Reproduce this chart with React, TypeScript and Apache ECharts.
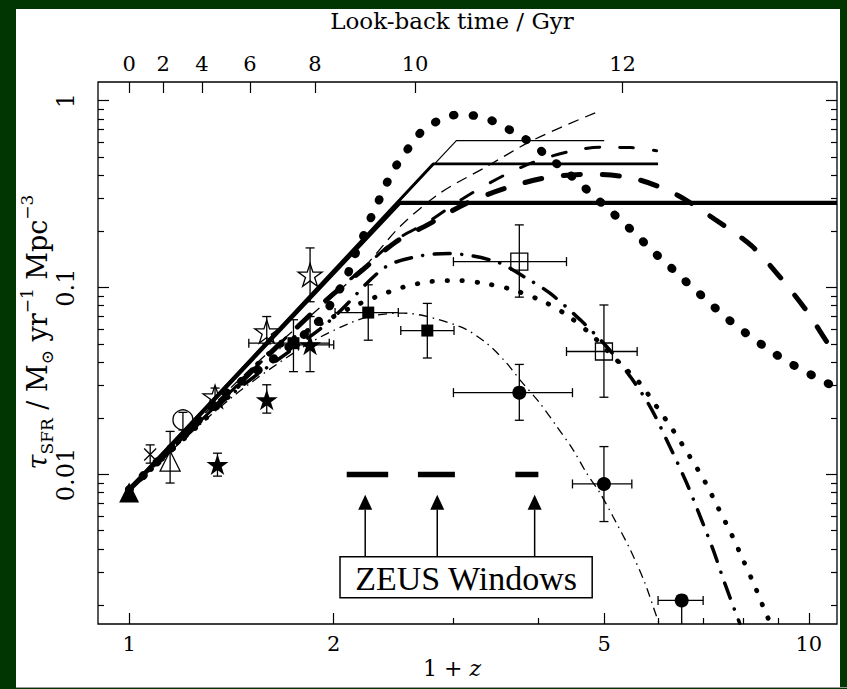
import React, { useEffect, useRef } from "react";
import * as echarts from "echarts";

const W = 847;
const H = 689;
const GREEN = "#013501";
const FONT = "'DejaVu Serif', serif";

// ---- axis ranges (1+z on x, SFR density on y) ----
const xRange = [0.9, 11];
const yRange = [0.0015849, 1.2589];

// ---- tick values / labels ----
const xMajorTicks = [1, 2, 5, 10];
const xTickLabels = ["1", "2", "5", "10"];
const xMinorTicks = [3, 4, 6, 7, 8, 9];
const yMajorTicks = [0.01, 0.1, 1];
const yTickLabels = ["0.01", "0.1", "1"];
const yMinorTicks = [
  0.002, 0.003, 0.004, 0.005, 0.006, 0.007, 0.008, 0.009,
  0.02, 0.03, 0.04, 0.05, 0.06, 0.07, 0.08, 0.09,
  0.2, 0.3, 0.4, 0.5, 0.6, 0.7, 0.8, 0.9,
];
const lookbackGyr = [0, 2, 4, 6, 8, 10, 12];
const lookbackOnePlusZ = [1, 1.122, 1.28, 1.506, 1.877, 2.634, 5.32];

// ---- model curves ----
const thickSolidX = [1, 2.5, 11];
const thickSolidY = [0.0083, 0.284, 0.284];
const mediumSolidX = [1, 2.8, 6.0];
const mediumSolidY = [0.0083, 0.459, 0.459];
const thinSolidX = [1, 3.03, 5.0];
const thinSolidY = [0.0083, 0.611, 0.611];

const thinDashX = [1, 1.5, 2.186, 2.503, 2.866, 3.357, 3.93, 4.87];
const thinDashY = [0.0083, 0.036, 0.122, 0.212, 0.32, 0.444, 0.616, 0.867];

const bigDotX = [1, 1.2, 1.4, 1.576, 1.857, 1.942, 2.009, 2.085, 2.138, 2.199, 2.261, 2.326, 2.393, 2.475, 2.575, 2.694, 2.85, 3.033, 3.245, 3.473, 3.687, 3.91, 4.12, 4.352, 4.592, 4.826, 5.085, 5.36, 5.63, 5.9, 6.23, 6.55, 6.89, 7.27, 7.65, 8.08, 8.55, 9.04, 9.61, 10.2, 10.83, 11];
const bigDotY = [0.0083, 0.016, 0.028, 0.0378, 0.0607, 0.073, 0.0895, 0.112, 0.1436, 0.18, 0.23, 0.288, 0.362, 0.453, 0.556, 0.683, 0.782, 0.839, 0.828, 0.763, 0.674, 0.592, 0.506, 0.43, 0.364, 0.309, 0.26, 0.219, 0.185, 0.156, 0.1306, 0.11, 0.0933, 0.0782, 0.0666, 0.057, 0.0492, 0.0428, 0.0375, 0.0334, 0.0298, 0.029];

const longDashX = [1, 1.4, 1.898, 2.211, 2.47, 2.756, 3.138, 3.613, 4.17, 4.79, 5.57, 6.4, 7.27, 8.24, 9.01, 9.9, 10.74, 11];
const longDashY = [0.0083, 0.027, 0.0785, 0.1254, 0.176, 0.218, 0.283, 0.344, 0.391, 0.404, 0.381, 0.313, 0.232, 0.167, 0.117, 0.076, 0.0484, 0.0437];

const midDashX = [1, 1.4, 1.898, 2.211, 2.47, 2.756, 3.1, 3.593, 4.045, 4.55, 4.93, 5.47, 5.97];
const midDashY = [0.0083, 0.027, 0.079, 0.127, 0.18, 0.225, 0.3, 0.4055, 0.486, 0.545, 0.563, 0.561, 0.54];

const dashDotX = [1, 1.4, 1.909, 2.04, 2.38, 2.68, 2.958, 3.465, 3.82, 4.16, 4.61, 5.04, 5.46, 5.84, 6.21, 6.61, 6.92, 7.23, 7.52, 7.91];
const dashDotY = [0.0083, 0.026, 0.06, 0.0744, 0.1285, 0.1477, 0.152, 0.1377, 0.1137, 0.0933, 0.0672, 0.0484, 0.0334, 0.0231, 0.0147, 0.009, 0.00596, 0.00396, 0.00262, 0.0016];

const smallDotX = [1, 1.4, 1.6, 1.942, 2.113, 2.3, 2.53, 2.77, 3.068, 3.357, 3.675, 4.07, 4.4, 4.76, 5.27, 5.64, 5.97, 6.31, 6.68, 7.03, 7.36, 7.7, 8.0, 8.33, 8.66, 8.8];
const smallDotY = [0.0083, 0.026, 0.044, 0.066, 0.0776, 0.0888, 0.1005, 0.1076, 0.109, 0.1047, 0.0972, 0.0842, 0.0715, 0.057, 0.0394, 0.0308, 0.0231, 0.0173, 0.01248, 0.00918, 0.0066, 0.00476, 0.0035, 0.00252, 0.00178, 0.00158];

const thinDashDotX = [1, 1.4, 1.8, 2.1, 2.3, 2.53, 3.068, 3.357, 3.593, 3.758, 4.02, 4.256, 4.5, 4.71, 4.93, 5.15, 5.46, 5.74, 5.97, 6.03];
const thinDashDotY = [0.0083, 0.025, 0.048, 0.064, 0.071, 0.073, 0.0618, 0.0504, 0.0394, 0.0321, 0.0241, 0.0181, 0.01355, 0.01017, 0.00795, 0.00596, 0.00396, 0.00262, 0.00174, 0.00158];

// ---- observations: [1+z, SFR, xLo, xHi, yLo, yHi] ----
const filledTriangles = [[1.0, 0.008, 1.0, 1.0, 0.008, 0.008]];
const openCrosses = [[1.074, 0.0128, 1.074, 1.074, 0.0115, 0.0144]];
const openTriangles = [[1.149, 0.0118, 1.149, 1.149, 0.009, 0.017]];
const openCircles = [[1.2, 0.0196, 1.2, 1.2, 0.0173, 0.0215]];
const openStars = [
  [1.338, 0.0261, 1.338, 1.338, 0.0235, 0.029],
  [1.594, 0.0582, 1.594, 1.594, 0.05, 0.07],
  [1.846, 0.117, 1.846, 1.846, 0.084, 0.163],
];
const filledStars = [
  [1.349, 0.0113, 1.349, 1.349, 0.0098, 0.013],
  [1.594, 0.0251, 1.594, 1.594, 0.0213, 0.0302],
  [1.846, 0.0494, 1.667, 2.0, 0.0355, 0.07],
];
const filledSquares = [
  [1.745, 0.0504, 1.5, 1.97, 0.0355, 0.0673],
  [2.248, 0.0735, 2.009, 2.489, 0.0523, 0.1035],
  [2.746, 0.0589, 2.51, 3.006, 0.042, 0.0823],
];
const openSquares = [
  [3.75, 0.1377, 3.0, 4.4, 0.0889, 0.2165],
  [4.995, 0.0455, 4.4, 5.59, 0.0259, 0.0807],
];
const filledCircles = [
  [3.75, 0.0274, 3.0, 4.49, 0.0195, 0.0388],
  [4.995, 0.0089, 4.49, 5.49, 0.0056, 0.0141],
  [6.5, 0.00212, 6.0, 6.99, 0.001, 0.00212],
];

// ---- ZEUS windows ----
const zeusLoX = [2.09, 2.66, 3.7];
const zeusHiX = [2.405, 3.015, 4.0];
const zeusY = [0.01, 0.01, 0.01];
const zeusArrowX = [2.225, 2.84, 3.95];
const zeusArrowBaseY = [0.00363, 0.00363, 0.00363];
const zeusArrowTipY = [0.0078, 0.0078, 0.0078];
const zeusBoxLabel = "ZEUS Windows";

const lg = Math.log10;
const zip = (xs: number[], ys: number[]) => xs.map((x, i) => [x, ys[i]]);
const nearest = (arr: number[], v: number) => {
  let bi = 0;
  let bd = Infinity;
  arr.forEach((a, i) => {
    const d = Math.abs(a - v);
    if (d < bd) {
      bd = d;
      bi = i;
    }
  });
  return bi;
};

const STAR = "path://M0,-10 L2.245,-3.09 L9.511,-3.09 L3.633,1.18 L5.878,8.09 L0,3.82 L-5.878,8.09 L-3.633,1.18 L-9.511,-3.09 L-2.245,-3.09 Z";
const CROSS = "path://M0,0 L10,10 M10,0 L0,10";

function curve(xs: number[], ys: number[], lineStyle: any, smooth: number = 0) {
  return {
    type: "line",
    data: zip(xs, ys),
    xAxisIndex: 0,
    yAxisIndex: 0,
    showSymbol: false,
    symbol: "none",
    smooth,
    clip: true,
    silent: true,
    z: 3,
    lineStyle: { color: "#000", ...lineStyle },
  };
}

function tickAxisX(position: string, values: number[], length: number, labels?: string[] | null, margin = 8) {
  const lv = values.map(lg);
  return {
    type: "value",
    position,
    min: lg(xRange[0]),
    max: lg(xRange[1]),
    axisLine: { show: false, onZero: false },
    splitLine: { show: false },
    axisTick: { show: true, inside: true, length, customValues: lv, lineStyle: { color: "#000", width: 1.2 } },
    axisLabel: labels
      ? {
          show: true,
          customValues: lv,
          formatter: (v: number) => labels[nearest(lv, v)],
          color: "#000",
          fontFamily: FONT,
          fontSize: 21,
          margin,
        }
      : { show: false },
  };
}

function tickAxisY(position: string, values: number[], length: number, labels?: string[] | null) {
  const lv = values.map(lg);
  return {
    type: "value",
    position,
    min: lg(yRange[0]),
    max: lg(yRange[1]),
    axisLine: { show: false, onZero: false },
    splitLine: { show: false },
    axisTick: { show: true, inside: true, length, customValues: lv, lineStyle: { color: "#000", width: 1.2 } },
    axisLabel: labels
      ? {
          show: true,
          customValues: lv,
          formatter: (v: number) => labels[nearest(lv, v)],
          color: "#000",
          fontFamily: FONT,
          fontSize: 24,
          rotate: 90,
          margin: 20,
        }
      : { show: false },
  };
}

function errorBarItem(params: any, api: any) {
  const x = api.value(0);
  const y = api.value(1);
  const xlo = api.value(2);
  const xhi = api.value(3);
  const ylo = api.value(4);
  const yhi = api.value(5);
  const c = api.coord([x, y]);
  const st = { stroke: "#000", lineWidth: 1.3 };
  const cap = 4.5;
  const ch: any[] = [];
  if (ylo < yhi) {
    const a = api.coord([x, ylo]);
    const b = api.coord([x, yhi]);
    ch.push({ type: "line", shape: { x1: c[0], y1: a[1], x2: c[0], y2: b[1] }, style: st });
    if (yhi > y) ch.push({ type: "line", shape: { x1: c[0] - cap, y1: b[1], x2: c[0] + cap, y2: b[1] }, style: st });
    if (ylo > yRange[0]) ch.push({ type: "line", shape: { x1: c[0] - cap, y1: a[1], x2: c[0] + cap, y2: a[1] }, style: st });
  }
  if (xlo < xhi) {
    const a = api.coord([xlo, y]);
    const b = api.coord([xhi, y]);
    ch.push({ type: "line", shape: { x1: a[0], y1: c[1], x2: b[0], y2: c[1] }, style: st });
    ch.push({ type: "line", shape: { x1: a[0], y1: c[1] - cap, x2: a[0], y2: c[1] + cap }, style: st });
    ch.push({ type: "line", shape: { x1: b[0], y1: c[1] - cap, x2: b[0], y2: c[1] + cap }, style: st });
  }
  return { type: "group", children: ch };
}

function markers(points: number[][], symbol: string, size: number, filled: boolean, extra: any = {}) {
  return {
    type: "scatter",
    xAxisIndex: 0,
    yAxisIndex: 0,
    data: points.map((p) => [p[0], p[1]]),
    symbol,
    symbolSize: size,
    symbolKeepAspect: true,
    silent: true,
    z: 6,
    itemStyle: filled
      ? { color: "#000", borderWidth: 0, opacity: 1 }
      : { color: "rgba(255,255,255,0)", borderColor: "#000", borderWidth: 1.3, opacity: 1 },
    ...extra,
  };
}

const allPoints = [
  ...filledTriangles,
  ...openCrosses,
  ...openTriangles,
  ...openCircles,
  ...openStars,
  ...filledStars,
  ...filledSquares,
  ...openSquares,
  ...filledCircles,
];

function buildOption() {
  return {
    animation: false,
    backgroundColor: "transparent",
    grid: {
      left: 98,
      top: 82,
      right: 10,
      bottom: 65,
      show: true,
      borderColor: "#000",
      borderWidth: 1.3,
      backgroundColor: "transparent",
    },
    xAxis: [
      {
        type: "log",
        logBase: 10,
        min: xRange[0],
        max: xRange[1],
        axisLine: { show: false, onZero: false },
        axisTick: { show: false },
        axisLabel: { show: false },
        splitLine: { show: false },
      },
      tickAxisX("bottom", xMajorTicks, 11, xTickLabels, 9),
      tickAxisX("bottom", xMinorTicks, 6, null),
      {
        ...tickAxisX("top", lookbackOnePlusZ, 11, null),
        axisLabel: {
          show: true,
          customValues: lookbackOnePlusZ.map(lg),
          formatter: (v: number) => String(lookbackGyr[nearest(lookbackOnePlusZ.map(lg), v)]),
          color: "#000",
          fontFamily: FONT,
          fontSize: 21,
          margin: 8,
        },
      },
    ],
    yAxis: [
      {
        type: "log",
        logBase: 10,
        min: yRange[0],
        max: yRange[1],
        axisLine: { show: false, onZero: false },
        axisTick: { show: false },
        axisLabel: { show: false },
        splitLine: { show: false },
      },
      tickAxisY("left", yMajorTicks, 11, yTickLabels),
      tickAxisY("left", yMinorTicks, 6, null),
      tickAxisY("right", yMajorTicks, 11, null),
      tickAxisY("right", yMinorTicks, 6, null),
    ],
    graphic: [
      {
        type: "text",
        x: 452,
        y: 21,
        style: {
          text: "Look-back time / Gyr",
          fontFamily: FONT,
          fontSize: 23,
          fill: "#000",
          align: "center",
          verticalAlign: "middle",
        },
      },
      {
        type: "text",
        x: 452,
        y: 668,
        style: {
          text: "{n|1 + }{i|z}",
          rich: {
            n: { fontFamily: FONT, fontSize: 22, fill: "#000" },
            i: { fontFamily: FONT, fontSize: 22, fontStyle: "italic", fill: "#000" },
          },
          align: "center",
          verticalAlign: "middle",
        },
      },
      {
        type: "text",
        x: 37,
        y: 332,
        rotation: Math.PI / 2,
        style: {
          text: "{t|τ}{s|SFR}{n| / M}{s|⊙}{n| yr}{p|−1}{n| Mpc}{p|−3}",
          rich: {
            t: { fontFamily: FONT, fontSize: 27, fontStyle: "italic", lineHeight: 37, fill: "#000" },
            n: { fontFamily: FONT, fontSize: 27, lineHeight: 37, fill: "#000" },
            s: { fontFamily: FONT, fontSize: 17, lineHeight: 18, verticalAlign: "bottom", fill: "#000" },
            p: { fontFamily: FONT, fontSize: 17, lineHeight: 18, verticalAlign: "top", fill: "#000" },
          },
          align: "center",
          verticalAlign: "middle",
        },
      },
    ],
    series: [
      curve(thickSolidX, thickSolidY, { width: 4.2 }),
      curve(mediumSolidX, mediumSolidY, { width: 2.6 }),
      curve(thinSolidX, thinSolidY, { width: 1.2 }),
      curve(thinDashX, thinDashY, { width: 1.3, type: [11, 7] }, 0.3),
      curve(bigDotX, bigDotY, { width: 8.5, type: [1, 18.5], cap: "round" }, 0.3),
      curve(longDashX, longDashY, { width: 5, type: [17, 22], cap: "round" }, 0.3),
      curve(midDashX, midDashY, { width: 3, type: [14, 20], cap: "round" }, 0.3),
      curve(dashDotX, dashDotY, { width: 3.5, type: [16, 11.5, 0.1, 11.5], cap: "round" }, 0.3),
      curve(smallDotX, smallDotY, { width: 4.8, type: [0.5, 14.5], cap: "round" }, 0.3),
      curve(thinDashDotX, thinDashDotY, { width: 1.3, type: [9, 5, 1.5, 5] }, 0.3),
      {
        type: "custom",
        xAxisIndex: 0,
        yAxisIndex: 0,
        clip: true,
        silent: true,
        z: 5,
        data: allPoints,
        encode: { x: 0, y: 1 },
        renderItem: errorBarItem,
      },
      markers(filledTriangles, "triangle", 20, true),
      markers(openCrosses, CROSS, 12, false),
      markers(openTriangles, "triangle", 20, false),
      markers(openCircles, "circle", 20, false),
      markers(openStars, STAR, 24, false),
      markers(filledStars, STAR, 22, true),
      markers(filledSquares, "rect", 12, true),
      markers(openSquares, "rect", 17, false),
      markers(filledCircles, "circle", 14, true),
      {
        type: "custom",
        xAxisIndex: 0,
        yAxisIndex: 0,
        clip: true,
        silent: true,
        z: 4,
        data: zeusLoX.map((lo, i) => [lo, zeusHiX[i], zeusY[i]]),
        encode: { x: [0, 1], y: 2 },
        renderItem: (p: any, api: any) => {
          const a = api.coord([api.value(0), api.value(2)]);
          const b = api.coord([api.value(1), api.value(2)]);
          return {
            type: "line",
            shape: { x1: a[0], y1: a[1], x2: b[0], y2: b[1] },
            style: { stroke: "#000", lineWidth: 5.5 },
          };
        },
      },
      {
        type: "custom",
        xAxisIndex: 0,
        yAxisIndex: 0,
        clip: true,
        silent: true,
        z: 4,
        data: zeusArrowX.map((x, i) => [x, zeusArrowBaseY[i], zeusArrowTipY[i]]),
        encode: { x: 0, y: [1, 2] },
        renderItem: (p: any, api: any) => {
          const base = api.coord([api.value(0), api.value(1)]);
          const tip = api.coord([api.value(0), api.value(2)]);
          const hl = 15;
          const hw = 7;
          return {
            type: "group",
            children: [
              {
                type: "line",
                shape: { x1: base[0], y1: base[1], x2: tip[0], y2: tip[1] + hl },
                style: { stroke: "#000", lineWidth: 1.5 },
              },
              {
                type: "polygon",
                shape: { points: [[tip[0], tip[1]], [tip[0] - hw, tip[1] + hl], [tip[0] + hw, tip[1] + hl]] },
                style: { fill: "#000" },
              },
            ],
          };
        },
      },
      {
        type: "custom",
        xAxisIndex: 0,
        yAxisIndex: 0,
        clip: true,
        silent: true,
        z: 7,
        data: [[2.043, 4.8, 0.00219, 0.00363]],
        encode: { x: [0, 1], y: [2, 3] },
        renderItem: (p: any, api: any) => {
          const a = api.coord([api.value(0), api.value(3)]);
          const b = api.coord([api.value(1), api.value(2)]);
          return {
            type: "group",
            children: [
              {
                type: "rect",
                shape: { x: a[0], y: a[1], width: b[0] - a[0], height: b[1] - a[1] },
                style: { fill: "#fff", stroke: "#000", lineWidth: 1.5 },
              },
              {
                type: "text",
                style: {
                  text: zeusBoxLabel,
                  x: (a[0] + b[0]) / 2,
                  y: (a[1] + b[1]) / 2 + 1,
                  align: "center",
                  verticalAlign: "middle",
                  fontFamily: "'Liberation Serif', serif",
                  fontSize: 34,
                  fill: "#000",
                },
              },
            ],
          };
        },
      },
    ],
  };
}

export default function App() {
  const ref = useRef<HTMLDivElement>(null);
  useEffect(() => {
    const el = ref.current;
    if (!el) return;
    const chart = echarts.init(el, null, { renderer: "svg" });
    chart.setOption(buildOption() as any);
    return () => chart.dispose();
  }, []);
  return (
    <div style={{ position: "fixed", left: 0, top: 0, width: W, height: H, background: GREEN, overflow: "hidden" }}>
      <div style={{ position: "absolute", left: 16, top: 9, width: 824, height: 678, background: "#fff" }} />
      <div style={{ position: "absolute", left: 16, top: 687, width: 831, height: 1, background: "#9a9a9a" }} />
      <div ref={ref} style={{ position: "absolute", left: 0, top: 0, width: W, height: H }} />
    </div>
  );
}
